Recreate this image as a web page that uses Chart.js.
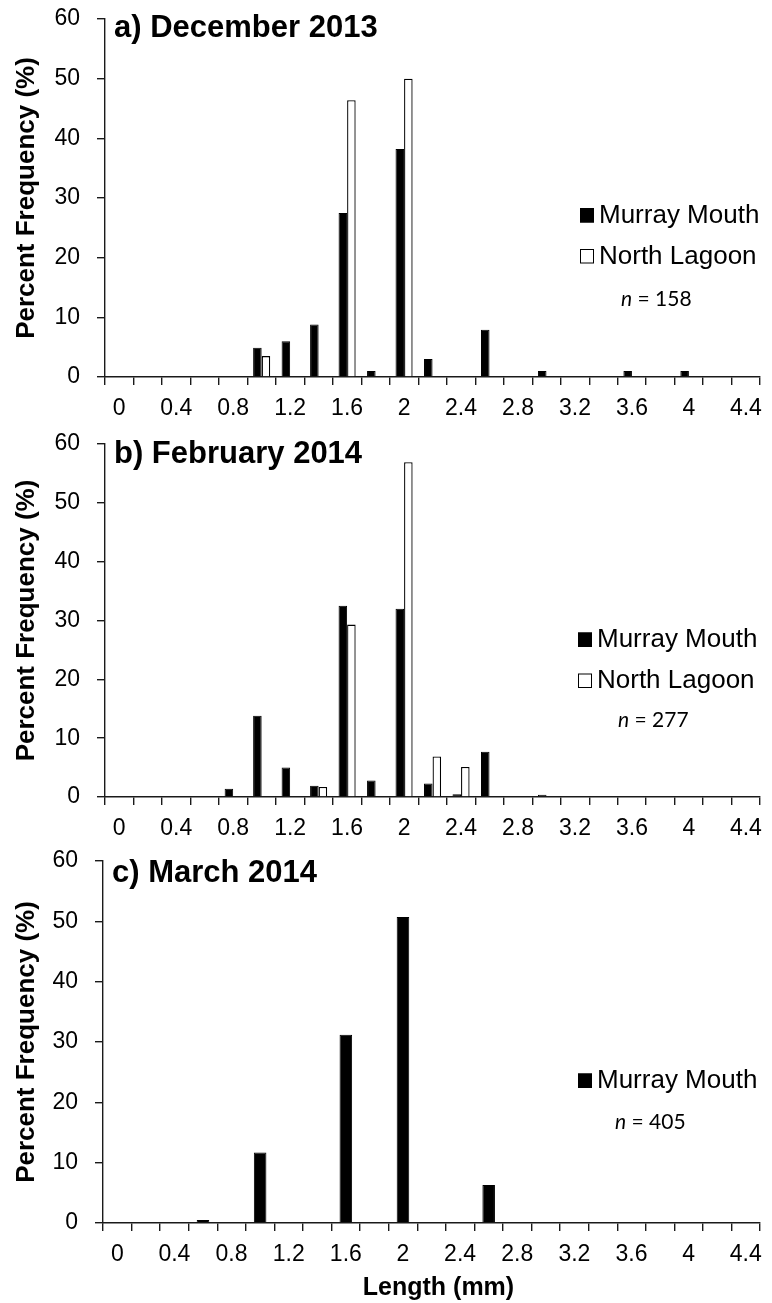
<!DOCTYPE html>
<html>
<head>
<meta charset="utf-8">
<script src="https://cdn.jsdelivr.net/npm/chart.js@4.4.0/dist/chart.umd.min.js"></script>
<style>
  html, body { margin: 0; padding: 0; background: #fff; }
  #wrap { position: relative; width: 772px; height: 1303px; overflow: hidden; }
  canvas { position: absolute; left: 0; }
</style>
</head>
<body>
<div id="wrap">
  <canvas id="decChart" width="772" height="430" style="top:0px"></canvas>
  <canvas id="febChart" width="772" height="430" style="top:430px"></canvas>
  <canvas id="marChart" width="772" height="463" style="top:840px"></canvas>
</div>
<script>
// length classes (mm), one bar slot each
const lengthBins = ['0', '0.2', '0.4', '0.6', '0.8', '1', '1.2', '1.4', '1.6', '1.8', '2', '2.2',
    '2.4', '2.6', '2.8', '3', '3.2', '3.4', '3.6', '3.8', '4', '4.2', '4.4'];

// percent frequency per length class
const decMurray = [0, 0, 0, 0, 0, 4.9, 6.0, 8.8, 27.5, 1.0, 38.2, 3.0, 0, 7.9, 0, 1.0, 0, 0, 1.0, 0, 1.0, 0, 0];
const decNorth  = [0, 0, 0, 0, 0, 3.5, 0, 0, 46.4, 0, 50.0, 0, 0, 0, 0, 0, 0, 0, 0, 0, 0, 0, 0];
const febMurray = [0, 0, 0, 0, 1.4, 13.8, 5.0, 1.9, 32.5, 2.8, 32.0, 2.3, 0.45, 7.7, 0, 0.4, 0, 0, 0, 0, 0, 0, 0];
const febNorth  = [0, 0, 0, 0, 0, 0, 0, 1.7, 29.3, 0, 56.9, 6.9, 5.1, 0, 0, 0, 0, 0, 0, 0, 0, 0, 0];
const marMurray = [0, 0, 0, 0.5, 0, 11.7, 0, 0, 31.2, 0, 50.7, 0, 0, 6.3, 0, 0, 0, 0, 0, 0, 0, 0, 0];

const panelTitles = ['a) December 2013', 'b) February 2014', 'c) March 2014'];
const sampleSizes = [158, 277, 405];
const yTicks = [0, 10, 20, 30, 40, 50, 60];

const sans = '"Liberation Sans", Arial, sans-serif';
const axisColor = '#1a1a1a';
const tickSize = 23;

// title, legend and n label drawn inside the plot area
const panelText = {
    id: 'panelText',
    afterDraw(chart, args, opts) {
        const ctx = chart.ctx;
        const area = chart.chartArea;
        ctx.save();
        ctx.fillStyle = '#000';
        ctx.textAlign = 'left';
        ctx.textBaseline = 'alphabetic';

        ctx.font = 'bold 31px ' + sans;
        ctx.fillText(opts.title, area.left + 9, area.top + opts.titleDy);

        ctx.font = '26px ' + sans;
        chart.data.datasets.forEach((ds, i) => {
            const base = area.top + opts.legendDy + i * 41;
            ctx.fillStyle = ds.backgroundColor;
            ctx.fillRect(opts.legendX, base - 14.5, 14, 14.5);
            ctx.strokeStyle = '#000';
            ctx.lineWidth = 1;
            ctx.strokeRect(opts.legendX + 0.5, base - 14, 13, 13.5);
            ctx.fillStyle = '#000';
            ctx.fillText(ds.label, opts.legendX + 19, base);
        });

        const ny = area.top + opts.nDy;
        ctx.font = 'italic 21px Lato, sans-serif';
        ctx.fillText('n', opts.nX, ny);
        const w = ctx.measureText('n').width;
        ctx.font = '21px Lato, sans-serif';
        ctx.fillText(' = ' + opts.n, opts.nX + w, ny);
        ctx.restore();
    }
};

function makePanel(id, datasets, cfg) {
    const ctx = document.getElementById(id).getContext('2d');
    return new Chart(ctx, {
        type: 'bar',
        data: { labels: lengthBins, datasets: datasets },
        plugins: [panelText],
        options: {
            responsive: false,
            animation: false,
            categoryPercentage: cfg.catPct,
            barPercentage: 1.0,
            layout: { padding: { top: cfg.top, right: cfg.right, left: 0, bottom: 0 } },
            plugins: {
                legend: { display: false },
                tooltip: { enabled: false },
                panelText: cfg.text
            },
            scales: {
                x: {
                    afterFit: (scale) => { scale.height = cfg.xHeight; },
                    grid: { offset: true, drawOnChartArea: false, tickLength: 8, color: axisColor, lineWidth: 1.4 },
                    border: { display: true, color: axisColor, width: 1.4 },
                    ticks: {
                        autoSkip: false,
                        maxRotation: 0,
                        padding: 10,
                        color: '#000',
                        font: { family: sans, size: tickSize },
                        callback: (v, i) => (i % 2 === 0 ? lengthBins[i] : '')
                    },
                    title: {
                        display: !!cfg.xTitle,
                        text: cfg.xTitle || '',
                        color: '#000',
                        font: { family: sans, size: 25, weight: 'bold' },
                        padding: { top: 0, bottom: 0 }
                    }
                },
                y: {
                    min: 0,
                    max: 60,
                    afterFit: (scale) => {
                        // fixed axis width; the layout padding already leaves room for the end labels
                        scale.width = cfg.left;
                        scale.paddingTop = 0;
                        scale.paddingBottom = 0;
                    },
                    afterBuildTicks: (scale) => { scale.ticks = yTicks.map(v => ({ value: v })); },
                    grid: { drawOnChartArea: false, tickLength: 8, color: axisColor, lineWidth: 1.4 },
                    border: { display: true, color: axisColor, width: 1.4 },
                    ticks: {
                        padding: 17,
                        color: '#000',
                        font: { family: sans, size: tickSize }
                    },
                    title: {
                        display: true,
                        text: 'Percent Frequency (%)',
                        color: '#000',
                        font: { family: sans, size: 26, weight: 'bold' },
                        padding: { top: 11, bottom: 0 }
                    }
                }
            }
        }
    });
}

const murrayStyle = { backgroundColor: '#000', borderColor: '#000', borderWidth: 1 };
const northStyle = { backgroundColor: '#fff', borderColor: '#000', borderWidth: 1.3 };

// a) December 2013
makePanel('decChart', [
    Object.assign({ label: 'Murray Mouth', data: decMurray }, murrayStyle),
    Object.assign({ label: 'North Lagoon', data: decNorth }, northStyle)
], {
    catPct: 0.6, top: 19, right: 6, left: 105, xHeight: 53,
    text: { title: panelTitles[0], titleDy: 18, legendX: 580, legendDy: 203.5, nX: 621, nDy: 287, n: sampleSizes[0] }
});

// b) February 2014
makePanel('febChart', [
    Object.assign({ label: 'Murray Mouth', data: febMurray }, murrayStyle),
    Object.assign({ label: 'North Lagoon', data: febNorth }, northStyle)
], {
    catPct: 0.6, top: 14, right: 6, left: 105, xHeight: 63,
    text: { title: panelTitles[1], titleDy: 19, legendX: 578, legendDy: 203, nX: 618, nDy: 283, n: sampleSizes[1] }
});

// c) March 2014
makePanel('marChart', [
    Object.assign({ label: 'Murray Mouth', data: marMurray }, murrayStyle)
], {
    catPct: 0.44, top: 21, right: 10, left: 103, xHeight: 80, xTitle: '  Length (mm)',
    text: { title: panelTitles[2], titleDy: 21, legendX: 578, legendDy: 227, nX: 615, nDy: 268, n: sampleSizes[2] }
});
</script>
</body>
</html>
